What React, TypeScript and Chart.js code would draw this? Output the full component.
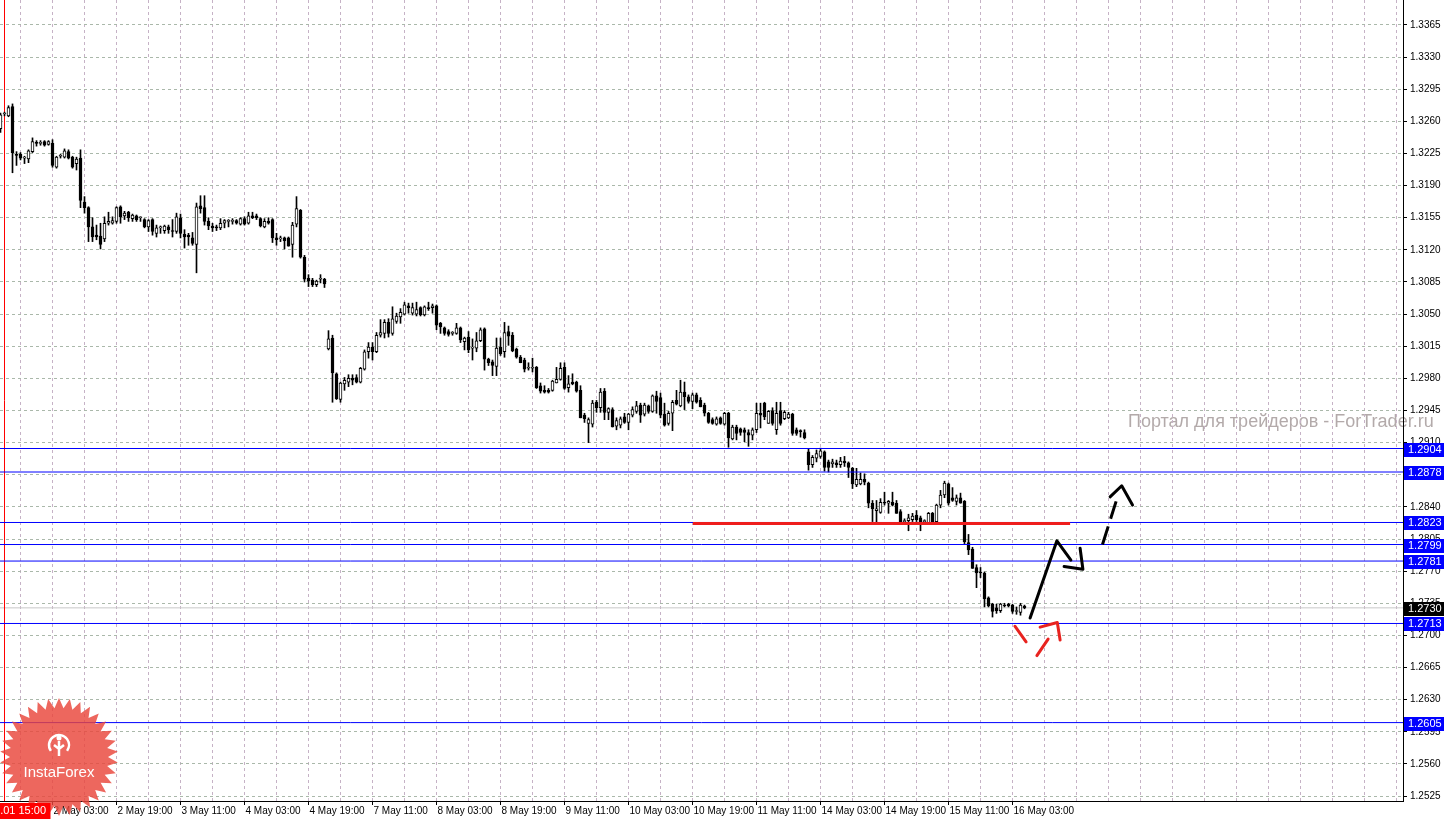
import React, { useEffect, useRef } from 'react';
import { Chart, registerables } from 'chart.js';

Chart.register(...registerables);

// ---- H1 candles, index 0 = 1 May 14:00 (one bar per hour, weekend compressed) ----
const opens = [
  1.3252,1.3268,1.3266,1.3276,1.3224,1.3224,1.3220,1.3219,1.3227,1.3237,
  1.3236,1.3238,1.3235,1.3236,1.3210,1.3222,1.3221,1.3227,1.3221,1.3214,
  1.3220,1.3172,1.3166,1.3145,1.3136,1.3135,1.3132,1.3149,1.3149,1.3151,
  1.3167,1.3157,1.3161,1.3154,1.3157,1.3155,1.3153,1.3145,1.3153,1.3138,
  1.3144,1.3141,1.3145,1.3141,1.3140,1.3155,1.3137,1.3136,1.3133,1.3126,
  1.3168,1.3166,1.3151,1.3146,1.3145,1.3144,1.3149,1.3151,1.3151,1.3152,
  1.3148,1.3154,1.3149,1.3157,1.3157,1.3154,1.3145,1.3151,1.3153,1.3133,
  1.3132,1.3133,1.3133,1.3126,1.3148,1.3163,1.3112,1.3089,1.3087,1.3082,
  1.3088,1.3088,1.3012,1.3024,1.2985,1.2957,1.2974,1.2976,1.2980,1.2981,
  1.2976,1.2990,1.3009,1.3014,1.3009,1.3027,1.3029,1.3041,1.3029,1.3042,
  1.3047,1.3050,1.3059,1.3051,1.3050,1.3057,1.3049,1.3057,1.3057,1.3059,
  1.3040,1.3035,1.3031,1.3029,1.3029,1.3035,1.3020,1.3025,1.3013,1.3013,
  1.3021,1.3034,1.3001,1.2998,1.2993,1.3014,1.3009,1.3031,1.3027,1.3012,
  1.3003,1.3000,1.2991,1.2991,1.2992,1.2972,1.2967,1.2967,1.2967,1.2975,
  1.2979,1.2992,1.2970,1.2976,1.2976,1.2967,1.2940,1.2931,1.2930,1.2954,
  1.2948,1.2966,1.2943,1.2946,1.2928,1.2929,1.2938,1.2932,1.2940,1.2944,
  1.2951,1.2941,1.2950,1.2944,1.2961,1.2959,1.2941,1.2931,1.2942,1.2956,
  1.2950,1.2965,1.2960,1.2955,1.2962,1.2956,1.2951,1.2942,1.2935,1.2930,
  1.2937,1.2930,1.2942,1.2914,1.2927,1.2925,1.2924,1.2921,1.2918,1.2924,
  1.2942,1.2953,1.2931,1.2945,1.2924,1.2945,1.2936,1.2937,1.2941,1.2924,
  1.2923,1.2921,1.2900,1.2886,1.2893,1.2895,1.2900,1.2889,1.2887,1.2888,
  1.2886,1.2890,1.2888,1.2882,1.2864,1.2865,1.2870,1.2866,1.2844,1.2836,
  1.2834,1.2845,1.2844,1.2845,1.2844,1.2835,1.2824,1.2825,1.2826,1.2831,
  1.2828,1.2824,1.2822,1.2833,1.2824,1.2842,1.2853,1.2865,1.2850,1.2846,
  1.2850,1.2846,1.2801,1.2794,1.2774,1.2769,1.2768,1.2741,1.2734,1.2730,
  1.2727,1.2733,1.2734,1.2733,1.2726,1.2725,1.2732,
];
const highs = [
  1.3269,1.3270,1.3277,1.3279,1.3227,1.3226,1.3222,1.3229,1.3242,1.3239,
  1.3239,1.3239,1.3239,1.3240,1.3222,1.3224,1.3230,1.3229,1.3222,1.3221,
  1.3229,1.3178,1.3167,1.3155,1.3147,1.3149,1.3156,1.3161,1.3156,1.3167,
  1.3168,1.3162,1.3162,1.3159,1.3158,1.3156,1.3154,1.3153,1.3154,1.3147,
  1.3146,1.3147,1.3147,1.3153,1.3160,1.3159,1.3142,1.3138,1.3139,1.3171,
  1.3179,1.3179,1.3155,1.3149,1.3147,1.3154,1.3153,1.3153,1.3154,1.3153,
  1.3155,1.3156,1.3161,1.3161,1.3159,1.3155,1.3154,1.3155,1.3154,1.3138,
  1.3135,1.3134,1.3134,1.3150,1.3178,1.3164,1.3114,1.3093,1.3089,1.3087,
  1.3093,1.3089,1.3032,1.3027,1.2986,1.2976,1.2981,1.2984,1.2984,1.2984,
  1.2992,1.3011,1.3019,1.3019,1.3030,1.3044,1.3044,1.3045,1.3058,1.3051,
  1.3056,1.3063,1.3062,1.3062,1.3063,1.3058,1.3059,1.3063,1.3061,1.3060,
  1.3041,1.3036,1.3033,1.3031,1.3040,1.3036,1.3025,1.3031,1.3023,1.3030,
  1.3035,1.3035,1.3002,1.3000,1.3024,1.3024,1.3041,1.3037,1.3030,1.3013,
  1.3005,1.3002,1.2997,1.3002,1.2993,1.2975,1.2972,1.2969,1.2978,1.2992,
  1.2997,1.2997,1.2983,1.2985,1.2977,1.2972,1.2942,1.2937,1.2956,1.2956,
  1.2969,1.2969,1.2948,1.2948,1.2937,1.2938,1.2942,1.2942,1.2949,1.2955,
  1.2953,1.2953,1.2951,1.2962,1.2966,1.2964,1.2953,1.2944,1.2956,1.2967,
  1.2978,1.2976,1.2962,1.2964,1.2964,1.2959,1.2953,1.2943,1.2937,1.2938,
  1.2938,1.2943,1.2943,1.2929,1.2929,1.2926,1.2926,1.2924,1.2926,1.2953,
  1.2953,1.2954,1.2945,1.2948,1.2954,1.2954,1.2945,1.2943,1.2942,1.2926,
  1.2924,1.2924,1.2903,1.2896,1.2902,1.2904,1.2901,1.2891,1.2892,1.2891,
  1.2894,1.2895,1.2889,1.2883,1.2882,1.2877,1.2876,1.2867,1.2847,1.2847,
  1.2849,1.2856,1.2847,1.2856,1.2847,1.2837,1.2827,1.2832,1.2833,1.2836,
  1.2830,1.2826,1.2834,1.2834,1.2843,1.2858,1.2868,1.2866,1.2861,1.2853,
  1.2855,1.2847,1.2810,1.2796,1.2777,1.2774,1.2769,1.2742,1.2735,1.2734,
  1.2735,1.2735,1.2735,1.2734,1.2731,1.2735,1.2733,
];
const lows = [
  1.3248,1.3266,1.3265,1.3204,1.3212,1.3218,1.3214,1.3215,1.3226,1.3233,
  1.3234,1.3233,1.3234,1.3210,1.3209,1.3220,1.3220,1.3219,1.3209,1.3207,
  1.3166,1.3160,1.3129,1.3129,1.3131,1.3121,1.3129,1.3147,1.3148,1.3149,
  1.3149,1.3153,1.3151,1.3151,1.3151,1.3151,1.3144,1.3140,1.3136,1.3134,
  1.3138,1.3138,1.3138,1.3134,1.3138,1.3133,1.3122,1.3125,1.3125,1.3095,
  1.3160,1.3147,1.3142,1.3140,1.3141,1.3142,1.3144,1.3145,1.3148,1.3148,
  1.3147,1.3147,1.3148,1.3154,1.3153,1.3145,1.3144,1.3148,1.3128,1.3125,
  1.3129,1.3121,1.3124,1.3112,1.3145,1.3111,1.3085,1.3080,1.3080,1.3080,
  1.3084,1.3079,1.3011,1.2954,1.2957,1.2954,1.2967,1.2971,1.2973,1.2975,
  1.2975,1.2989,1.3002,1.3000,1.3008,1.3025,1.3024,1.3025,1.3027,1.3040,
  1.3040,1.3049,1.3051,1.3049,1.3048,1.3048,1.3048,1.3054,1.3051,1.3033,
  1.3029,1.3027,1.3026,1.3027,1.3028,1.3019,1.3011,1.3008,1.3000,1.3009,
  1.3020,1.2989,1.2994,1.2983,1.2983,1.3005,1.3003,1.3016,1.3009,1.3002,
  1.2997,1.2987,1.2989,1.2987,1.2969,1.2964,1.2964,1.2964,1.2966,1.2975,
  1.2978,1.2968,1.2965,1.2973,1.2965,1.2937,1.2932,1.2910,1.2927,1.2943,
  1.2943,1.2935,1.2935,1.2927,1.2924,1.2926,1.2931,1.2924,1.2938,1.2942,
  1.2932,1.2939,1.2942,1.2943,1.2942,1.2937,1.2928,1.2929,1.2923,1.2951,
  1.2949,1.2946,1.2953,1.2947,1.2953,1.2949,1.2939,1.2931,1.2930,1.2929,
  1.2930,1.2929,1.2905,1.2913,1.2913,1.2918,1.2911,1.2906,1.2913,1.2921,
  1.2926,1.2935,1.2931,1.2929,1.2919,1.2929,1.2935,1.2936,1.2918,1.2918,
  1.2916,1.2914,1.2880,1.2883,1.2889,1.2893,1.2879,1.2878,1.2883,1.2883,
  1.2883,1.2884,1.2872,1.2860,1.2862,1.2864,1.2864,1.2839,1.2824,1.2822,
  1.2833,1.2842,1.2833,1.2841,1.2833,1.2822,1.2822,1.2814,1.2824,1.2824,
  1.2814,1.2822,1.2822,1.2822,1.2822,1.2839,1.2850,1.2842,1.2846,1.2842,
  1.2844,1.2800,1.2788,1.2773,1.2752,1.2763,1.2731,1.2731,1.2720,1.2724,
  1.2725,1.2731,1.2731,1.2724,1.2723,1.2722,1.2729,
];
const closes = [
  1.3267,1.3268,1.3275,1.3226,1.3223,1.3220,1.3221,1.3228,1.3238,1.3236,
  1.3236,1.3234,1.3238,1.3212,1.3221,1.3222,1.3228,1.3220,1.3210,1.3219,
  1.3174,1.3166,1.3145,1.3134,1.3134,1.3126,1.3149,1.3151,1.3152,1.3166,
  1.3156,1.3160,1.3155,1.3158,1.3153,1.3155,1.3145,1.3152,1.3140,1.3144,
  1.3144,1.3146,1.3142,1.3140,1.3156,1.3138,1.3134,1.3134,1.3127,1.3167,
  1.3165,1.3151,1.3146,1.3144,1.3144,1.3149,1.3152,1.3151,1.3151,1.3149,
  1.3154,1.3148,1.3157,1.3155,1.3155,1.3146,1.3151,1.3149,1.3133,1.3131,
  1.3132,1.3130,1.3124,1.3147,1.3165,1.3112,1.3088,1.3086,1.3082,1.3086,
  1.3088,1.3083,1.3023,1.2986,1.2958,1.2975,1.2978,1.2980,1.2978,1.2976,
  1.2991,1.3009,1.3014,1.3009,1.3027,1.3030,1.3041,1.3029,1.3045,1.3048,
  1.3052,1.3060,1.3057,1.3057,1.3055,1.3049,1.3058,1.3056,1.3059,1.3038,
  1.3036,1.3029,1.3028,1.3030,1.3035,1.3022,1.3024,1.3011,1.3013,1.3021,
  1.3033,1.3001,1.2997,1.2994,1.3013,1.3007,1.3030,1.3026,1.3010,1.3003,
  1.2997,1.2990,1.2991,1.2991,1.2970,1.2966,1.2965,1.2965,1.2977,1.2979,
  1.2991,1.2969,1.2974,1.2974,1.2966,1.2937,1.2936,1.2935,1.2953,1.2948,
  1.2965,1.2943,1.2947,1.2927,1.2934,1.2936,1.2932,1.2941,1.2946,1.2950,
  1.2940,1.2951,1.2944,1.2961,1.2955,1.2940,1.2929,1.2942,1.2954,1.2952,
  1.2965,1.2960,1.2955,1.2962,1.2954,1.2949,1.2942,1.2932,1.2931,1.2936,
  1.2931,1.2942,1.2915,1.2927,1.2920,1.2921,1.2921,1.2918,1.2924,1.2942,
  1.2940,1.2938,1.2944,1.2931,1.2942,1.2931,1.2943,1.2941,1.2920,1.2920,
  1.2922,1.2915,1.2886,1.2894,1.2898,1.2901,1.2883,1.2883,1.2889,1.2886,
  1.2890,1.2888,1.2883,1.2865,1.2870,1.2870,1.2867,1.2844,1.2838,1.2838,
  1.2845,1.2844,1.2846,1.2842,1.2833,1.2822,1.2825,1.2828,1.2830,1.2826,
  1.2822,1.2824,1.2833,1.2824,1.2842,1.2853,1.2866,1.2844,1.2847,1.2850,
  1.2844,1.2802,1.2793,1.2773,1.2768,1.2768,1.2740,1.2732,1.2726,1.2727,
  1.2734,1.2732,1.2732,1.2726,1.2726,1.2733,1.2730,
];

// ---- axes ----
const xTickIdx = [13, 29, 45, 61, 77, 93, 109, 125, 141, 157, 173, 189, 205, 221, 237, 253];
const xTickLabels = [
  '2 May 03:00', '2 May 19:00', '3 May 11:00', '4 May 03:00', '4 May 19:00', '7 May 11:00',
  '8 May 03:00', '8 May 19:00', '9 May 11:00', '10 May 03:00', '10 May 19:00', '11 May 11:00',
  '14 May 03:00', '14 May 19:00', '15 May 11:00', '16 May 03:00',
];
const yTicks = [
  1.2525, 1.2560, 1.2595, 1.2630, 1.2665, 1.2700, 1.2735, 1.2770, 1.2805, 1.2840, 1.2875, 1.2910,
  1.2945, 1.2980, 1.3015, 1.3050, 1.3085, 1.3120, 1.3155, 1.3190, 1.3225, 1.3260, 1.3295, 1.3330, 1.3365,
];
const X_MIN = -0.125;
const X_MAX = 350.625;
const Y_MIN = 1.25196;
const Y_MAX = 1.33922;

// ---- objects on the chart ----
const levels = [1.29036, 1.2878, 1.2823, 1.2799, 1.2781, 1.2713, 1.2605];
const bidPrice = 1.2730;
const separatorIdx = 1; // 1 May 15:00
const separatorLabel = '2018.05.01 15:00';
const redLevel = { from: 173.1, to: 267.4, price: 1.2822 };
const solidArrow: number[][] = [[257.4, 1.2719], [264.1, 1.2803], [267.6, 1.2782]];
const solidHead: number[][] = [[265.9, 1.2775], [270.6, 1.2772], [269.9, 1.2795]];
const dashedArrow: number[][] = [[275.5, 1.2799], [278.9, 1.2846]];
const dashedHead: number[][] = [[277.4, 1.2851], [280.3, 1.2863], [283.0, 1.2842]];
const redDash1: number[][] = [[253.6, 1.2710], [256.4, 1.2693]];
const redDash2: number[][] = [[259.1, 1.2678], [261.9, 1.2696]];
const redHead: number[][] = [[259.9, 1.2709], [264.2, 1.2714], [264.9, 1.2695]];
const watermark = 'Портал для трейдеров - ForTrader.ru';
const logoText = 'InstaForex';

const FONT = '"Liberation Sans", Arial, sans-serif';

function lineDs(pts: number[][], color: string, width: number, dash: number[] = [], order = -1, cap = 'round') {
  return {
    type: 'line' as const,
    data: pts.map(([x, y]) => ({ x, y })),
    borderColor: color,
    borderWidth: width,
    borderDash: dash,
    borderCapStyle: cap,
    borderJoinStyle: 'round' as const,
    pointRadius: 0,
    fill: false,
    tension: 0,
    order,
  };
}

function drawLogo(ctx: CanvasRenderingContext2D) {
  const cx = 59, cy = 757, R = 59, r = 49, n = 34;
  ctx.save();
  ctx.beginPath();
  for (let k = 0; k < 2 * n; k++) {
    const rad = k % 2 === 0 ? R : r;
    const a = (Math.PI * k) / n - Math.PI / 2;
    const px = cx + rad * Math.cos(a);
    const py = cy + rad * Math.sin(a);
    if (k === 0) ctx.moveTo(px, py); else ctx.lineTo(px, py);
  }
  ctx.closePath();
  ctx.fillStyle = 'rgba(233, 70, 58, 0.82)';
  ctx.fill();
  // icon
  ctx.strokeStyle = '#ffffff';
  ctx.lineWidth = 2.5;
  ctx.beginPath();
  ctx.arc(cx, cy - 12, 10, Math.PI * 0.8, Math.PI * 2.2);
  ctx.stroke();
  ctx.beginPath();
  ctx.moveTo(cx, cy - 16); ctx.lineTo(cx, cy - 1);
  ctx.moveTo(cx - 5, cy - 12); ctx.lineTo(cx, cy - 8); ctx.lineTo(cx + 5, cy - 12);
  ctx.stroke();
  ctx.beginPath();
  ctx.arc(cx, cy - 19, 2.5, 0, Math.PI * 2);
  ctx.fillStyle = '#ffffff';
  ctx.fill();
  ctx.font = `15px ${FONT}`;
  ctx.textAlign = 'center';
  ctx.textBaseline = 'alphabetic';
  ctx.fillText(logoText, cx, cy + 20);
  ctx.restore();
}

const decor = {
  id: 'decor',
  beforeDraw(chart: any) {
    const { ctx } = chart;
    ctx.save();
    ctx.fillStyle = '#ffffff';
    ctx.fillRect(0, 0, chart.width, chart.height);
    ctx.font = `18px ${FONT}`;
    ctx.fillStyle = '#b3aaaa';
    ctx.textAlign = 'left';
    ctx.textBaseline = 'alphabetic';
    ctx.fillText(watermark, 1128, 427);
    ctx.restore();
  },
  afterDraw(chart: any) {
    const { ctx, chartArea } = chart;
    const ys = chart.scales.y;
    const xs = chart.scales.x;
    const left = chartArea.right + 1;
    const w = chart.width - left;
    ctx.save();
    ctx.font = `11px ${FONT}`;
    ctx.textAlign = 'left';
    ctx.textBaseline = 'middle';
    levels.forEach((lv) => {
      const py = Math.round(ys.getPixelForValue(lv));
      ctx.fillStyle = '#0000ff';
      ctx.fillRect(left, py - 6, w, 14);
      ctx.fillStyle = '#ffffff';
      ctx.fillText(lv.toFixed(4), left + 4, py + 1);
    });
    const bp = Math.round(ys.getPixelForValue(bidPrice));
    ctx.fillStyle = '#000000';
    ctx.fillRect(left, bp - 6, w, 14);
    ctx.fillStyle = '#ffffff';
    ctx.fillText(bidPrice.toFixed(4), left + 4, bp + 1);
    ctx.restore();

    drawLogo(ctx);

    // time label of the period separator
    const sx = xs.getPixelForValue(separatorIdx);
    ctx.save();
    ctx.fillStyle = '#ff0000';
    ctx.fillRect(0, chartArea.bottom + 2, sx + 46, 16);
    ctx.fillStyle = '#ffffff';
    ctx.font = `11px ${FONT}`;
    ctx.textAlign = 'right';
    ctx.textBaseline = 'middle';
    ctx.fillText(separatorLabel, sx + 41.5, chartArea.bottom + 10);
    ctx.restore();
  },
};

export default function App() {
  const ref = useRef<HTMLCanvasElement>(null);

  useEffect(() => {
    document.body.style.margin = '0';
    document.body.style.overflow = 'hidden';
    const canvas = ref.current;
    if (!canvas) return;

    const bodies = closes.map((c, i) => ({ x: i, y: [opens[i], c] }));
    const wicks = highs.map((h, i) => ({ x: i, y: [lows[i], h] }));
    const bodyColors = closes.map((c, i) => (c >= opens[i] ? '#ffffff' : '#000000'));

    const datasets: any[] = [
      {
        type: 'bar',
        data: bodies,
        backgroundColor: bodyColors,
        borderColor: '#000000',
        borderWidth: 1,
        borderSkipped: false,
        barThickness: 3,
        minBarLength: 1,
        grouped: false,
        order: 1,
      },
      {
        type: 'bar',
        data: wicks,
        backgroundColor: '#000000',
        borderWidth: 0,
        barThickness: 1,
        grouped: false,
        order: 2,
      },
      lineDs([[separatorIdx, Y_MIN], [separatorIdx, Y_MAX]], '#ff0000', 1, [], 3, 'butt'),
      lineDs([[X_MIN, bidPrice], [X_MAX, bidPrice]], '#c8c8c8', 1, [], 3, 'butt'),
      ...levels.map((lv) => lineDs([[X_MIN, lv], [X_MAX, lv]], '#0000ff', 1, [], 0, 'butt')),
      lineDs([[redLevel.from, redLevel.price], [redLevel.to, redLevel.price]], '#ee1d1d', 3, [], -1, 'butt'),
      lineDs(solidArrow, '#000000', 3),
      lineDs(solidHead, '#000000', 3),
      lineDs(dashedArrow, '#000000', 3, [19, 8], -1, 'butt'),
      lineDs(dashedHead, '#000000', 3),
      lineDs(redDash1, '#e8231f', 3),
      lineDs(redDash2, '#e8231f', 3),
      lineDs(redHead, '#e8231f', 3),
    ];

    const chart = new Chart(canvas, {
      type: 'bar',
      data: { datasets },
      plugins: [decor],
      options: {
        animation: false,
        responsive: false,
        events: [],
        layout: { padding: 0 },
        plugins: { legend: { display: false }, tooltip: { enabled: false } },
        scales: {
          x: {
            type: 'linear',
            position: 'bottom',
            min: X_MIN,
            max: X_MAX,
            offset: false,
            afterBuildTicks: (scale: any) => {
              const t: { value: number }[] = [];
              for (let v = 5; v < X_MAX; v += 8) t.push({ value: v });
              scale.ticks = t;
            },
            afterFit: (scale: any) => {
              scale.height = 18;
              scale.paddingLeft = 0;
              scale.paddingRight = 0;
            },
            grid: {
              offset: false,
              color: '#c6b2c6',
              lineWidth: 1,
              drawTicks: true,
              tickLength: 4,
              tickColor: (c: any) => (c.tick && xTickIdx.includes(c.tick.value) ? '#000000' : 'rgba(0,0,0,0)'),
            },
            border: { display: true, color: '#000000', width: 1, dash: [3, 3] },
            ticks: {
              autoSkip: false,
              maxRotation: 0,
              minRotation: 0,
              align: 'start',
              padding: 0,
              labelOffset: 1,
              color: '#000000',
              font: { family: FONT, size: 10 },
              callback: (v: any) => {
                const k = xTickIdx.indexOf(Number(v));
                return k >= 0 ? xTickLabels[k] : '';
              },
            },
          },
          y: {
            type: 'linear',
            position: 'right',
            min: Y_MIN,
            max: Y_MAX,
            afterBuildTicks: (scale: any) => {
              scale.ticks = yTicks.map((v) => ({ value: v }));
            },
            afterFit: (scale: any) => {
              scale.width = 41;
              scale.paddingTop = 0;
              scale.paddingBottom = 0;
            },
            grid: {
              color: '#aab8aa',
              lineWidth: 1,
              drawTicks: true,
              tickLength: 4,
              tickColor: '#000000',
            },
            border: { display: true, color: '#000000', width: 1, dash: [3, 3] },
            ticks: {
              autoSkip: false,
              padding: 3,
              color: '#000000',
              font: { family: FONT, size: 10 },
              callback: (v: any) => Number(v).toFixed(4),
            },
          },
        },
      } as any,
    });

    return () => chart.destroy();
  }, []);

  return <canvas ref={ref} width={1444} height={819} style={{ display: 'block' }} />;
}
